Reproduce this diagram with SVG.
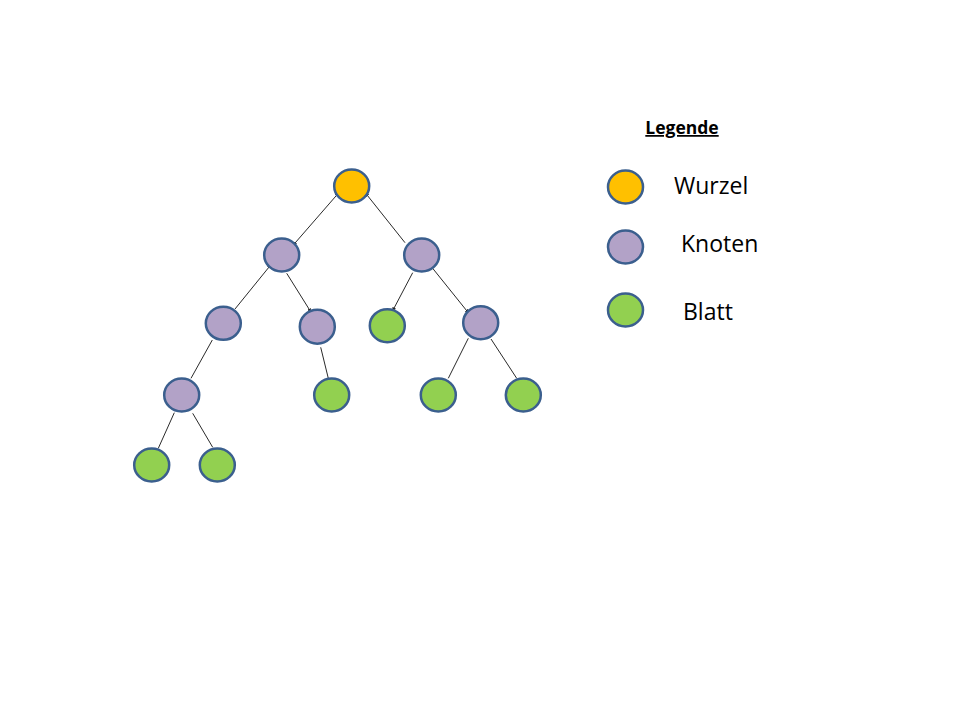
<svg xmlns="http://www.w3.org/2000/svg" width="960" height="720" viewBox="0 0 960 720">
<defs>
<marker id="ah" viewBox="0 0 6 6" refX="5" refY="3" markerWidth="4" markerHeight="4" orient="auto-start-reverse">
<path d="M0,0 L6,3 L0,6 z" fill="#222"/>
</marker>
<style>
.n{stroke:#3B5F8E;stroke-width:2.5}
.w{fill:#FFC000}
.k{fill:#B2A2C7}
.b{fill:#92D050}
.e{stroke:#2a2a2a;stroke-width:1;fill:none}
.t{font-family:"Open Sans","Liberation Sans",sans-serif;font-size:23px;fill:#000}
</style>
</defs>
<rect width="960" height="720" fill="#fff"/>
<g id="connectors">
<line class="e" x1="338.3" y1="193.3" x2="293.3" y2="245" marker-start="url(#ah)" marker-end="url(#ah)"/>
<line class="e" x1="365.7" y1="193.3" x2="405" y2="242.7" marker-start="url(#ah)"/>
<line class="e" x1="270.7" y1="265" x2="235" y2="309" marker-start="url(#ah)"/>
<line class="e" x1="286.7" y1="273.3" x2="310.7" y2="311.7" marker-end="url(#ah)"/>
<line class="e" x1="412.7" y1="272.7" x2="392.7" y2="310.7" marker-end="url(#ah)"/>
<line class="e" x1="430" y1="265" x2="468.3" y2="312.7" marker-start="url(#ah)" marker-end="url(#ah)"/>
<line class="e" x1="212.3" y1="340" x2="191" y2="378.3"/>
<line class="e" x1="320.7" y1="347.3" x2="328.3" y2="378.3"/>
<line class="e" x1="468.3" y1="338.3" x2="448.3" y2="378.3"/>
<line class="e" x1="491" y1="339" x2="516.7" y2="378.3"/>
<line class="e" x1="174.3" y1="412.7" x2="158.3" y2="448.3"/>
<line class="e" x1="192.7" y1="413.3" x2="212.7" y2="447.3"/>
</g>
<g id="root"><ellipse class="n w" cx="351.7" cy="186" rx="17.5" ry="16.5"/></g>
<g id="n1"><ellipse class="n k" cx="281.7" cy="255" rx="17.5" ry="16.5"/></g>
<g id="n2"><ellipse class="n k" cx="421.7" cy="255" rx="17.5" ry="16.5"/></g>
<g id="n3"><ellipse class="n k" cx="223.3" cy="323.3" rx="17.5" ry="16.5"/></g>
<g id="n4"><ellipse class="n k" cx="317.3" cy="326.7" rx="17.5" ry="17"/></g>
<g id="l1"><ellipse class="n b" cx="387.3" cy="325.7" rx="17.5" ry="16.5"/></g>
<g id="n5"><ellipse class="n k" cx="480.7" cy="322.7" rx="17.5" ry="16.5"/></g>
<g id="n6"><ellipse class="n k" cx="181.7" cy="395" rx="17.5" ry="16.5"/></g>
<g id="l2"><ellipse class="n b" cx="331.7" cy="395" rx="17.5" ry="16.5"/></g>
<g id="l3"><ellipse class="n b" cx="438.3" cy="395" rx="17.5" ry="16.5"/></g>
<g id="l4"><ellipse class="n b" cx="523.3" cy="395" rx="17.5" ry="16.5"/></g>
<g id="l5"><ellipse class="n b" cx="151.7" cy="465" rx="17.5" ry="16.5"/></g>
<g id="l6"><ellipse class="n b" cx="217.3" cy="465" rx="17.5" ry="16.5"/></g>
<g id="legend">
<text x="682" y="134" text-anchor="middle" font-family="'Open Sans','Liberation Sans',sans-serif" font-size="17.5" font-weight="bold" text-decoration="underline">Legende</text>
<g id="leg-wurzel"><ellipse class="n w" cx="625.5" cy="187" rx="17.5" ry="16.5"/><text class="t" x="674" y="194">Wurzel</text></g>
<g id="leg-knoten"><ellipse class="n k" cx="625.5" cy="247" rx="17.5" ry="16.5"/><text class="t" x="681" y="252">Knoten</text></g>
<g id="leg-blatt"><ellipse class="n b" cx="625.5" cy="310" rx="17.5" ry="16.5"/><text class="t" x="683" y="320">Blatt</text></g>
</g>
</svg>
